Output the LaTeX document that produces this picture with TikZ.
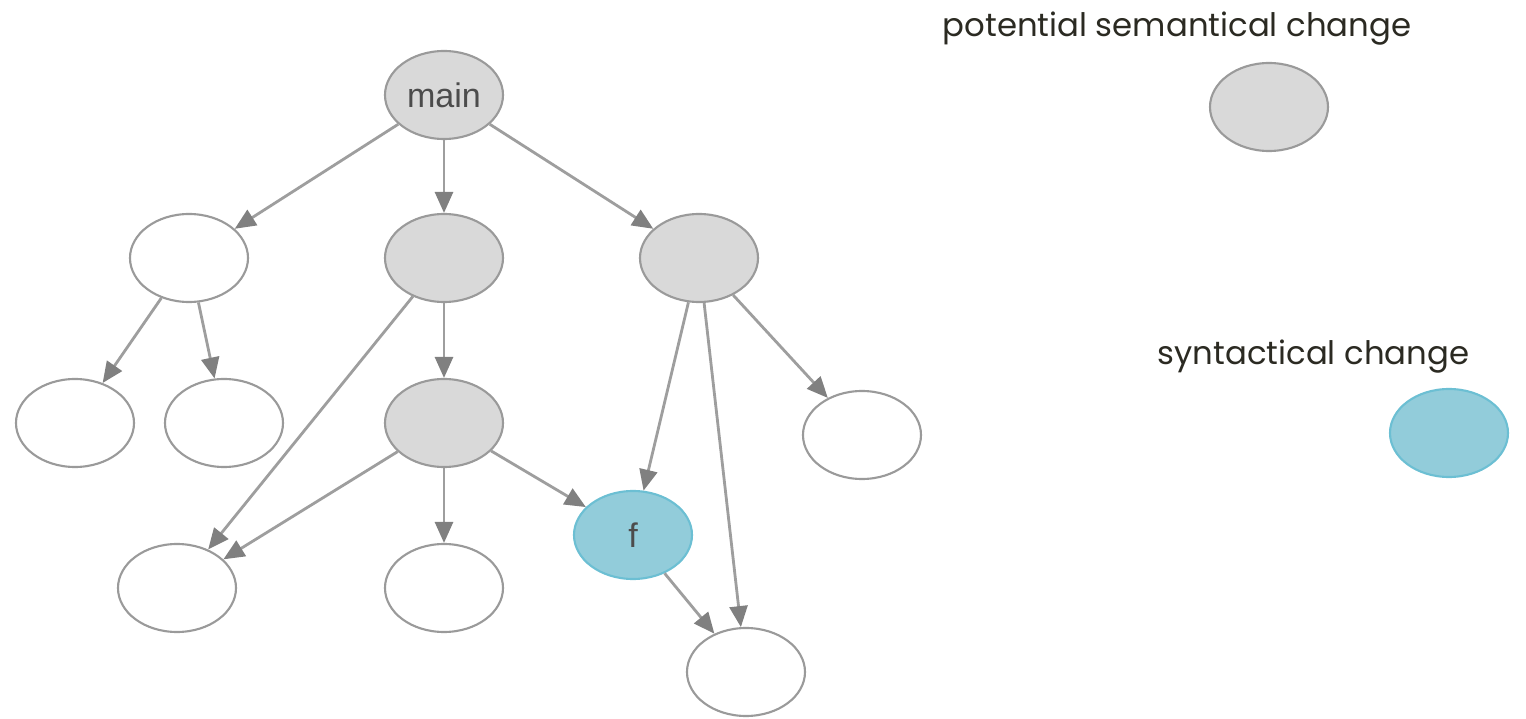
\documentclass[tikz,border=0pt]{standalone}
\usepackage{fontspec}
\setmainfont{Poppins}
\newfontfamily\nodefont{Liberation Sans}
\usetikzlibrary{shapes.geometric,arrows.meta}
\definecolor{gfill}{HTML}{D9D9D9}
\definecolor{gline}{HTML}{9A9A9A}
\definecolor{bfill}{HTML}{92CCDA}
\definecolor{bline}{HTML}{6CBFD3}
\definecolor{edgec}{HTML}{9E9E9E}
\definecolor{tipc}{HTML}{808080}
\definecolor{txt}{HTML}{2B2A22}
\tikzset{
  nd/.style={ellipse, minimum width=1.18cm, minimum height=0.88cm, inner sep=0pt, line width=0.6pt, font=\nodefont\fontsize{9.7}{12}\selectfont, text=black!70},
  wnode/.style={nd, draw=gline, fill=white},
  gnode/.style={nd, draw=gline, fill=gfill},
  bnode/.style={nd, draw=bline, fill=bfill},
  edge/.style={draw=edgec, line width=0.8pt, -{Triangle[length=0.21cm,width=0.18cm,fill=tipc,color=tipc]}},
  lbl/.style={font=\fontsize{9.2}{12}\selectfont, text=txt, inner sep=0pt}
}
\begin{document}
\begin{tikzpicture}
\useasboundingbox (0,0) rectangle (15.26,-7.19);
\node[gnode] (main) at (4.44,-0.95) {main};
\node[wnode] (A) at (1.89,-2.58) {};
\node[gnode] (B) at (4.44,-2.58) {};
\node[gnode] (C) at (6.99,-2.58) {};
\node[wnode] (D) at (0.75,-4.23) {};
\node[wnode] (E) at (2.24,-4.23) {};
\node[gnode] (F) at (4.44,-4.23) {};
\node[wnode] (G) at (8.62,-4.35) {};
\node[wnode] (H) at (1.77,-5.88) {};
\node[wnode] (I) at (4.44,-5.88) {};
\node[bnode] (f) at (6.33,-5.35) {f};
\node[wnode] (J) at (7.46,-6.72) {};
\draw[edge] (main) -- (A);
\draw[edge] (main) -- (B);
\draw[edge] (main) -- (C);
\draw[edge] (A) -- (D);
\draw[edge] (A) -- (E);
\draw[edge] (B) -- (F);
\draw[edge] (B) -- (H);
\draw[edge] (C) -- (f);
\draw[edge] (C) -- (J);
\draw[edge] (C) -- (G);
\draw[edge] (F) -- (H);
\draw[edge] (F) -- (I);
\draw[edge] (F) -- (f);
\draw[edge] (f) -- (J);
\node[lbl, anchor=base west] (t1) at (9.42,-0.37) {potential semantical change};
\node[gnode] (lg) at (12.69,-1.07) {};
\node[lbl, anchor=base west] (t2) at (11.57,-3.65) {syntactical change};
\node[bnode] (lb) at (14.49,-4.33) {};
\end{tikzpicture}
\end{document}
